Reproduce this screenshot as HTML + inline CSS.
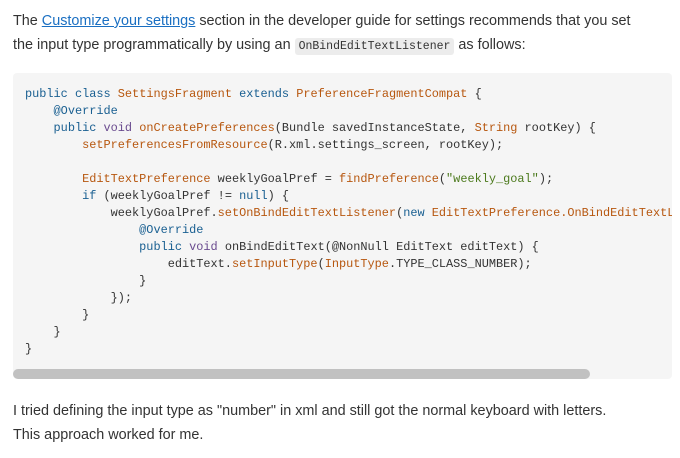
<!DOCTYPE html>
<html><head><style>
body{margin:0;width:680px;height:458px;background:#fff;overflow:hidden;font-family:"Liberation Sans",sans-serif;color:#333;}
p{margin:0;position:absolute;left:13px;font-size:14.4px;line-height:24px;}
a{color:#1a6fc2;text-decoration:underline;}
code.i{font-family:"Liberation Mono",monospace;font-size:11.5px;background:#ececec;padding:2px 4px;border-radius:3px;}
.box{position:absolute;left:13px;top:73px;width:659px;height:306px;background:#f5f5f5;border-radius:4px;overflow:hidden;}
pre{margin:0;position:absolute;left:12px;top:13px;font-family:"Liberation Mono",monospace;font-size:11.9px;line-height:17px;color:#333;white-space:pre;}
.k{color:#195f91;}.t{color:#b7570f;}.v{color:#6a4b8f;}.s{color:#4c7a1d;}
.sb{position:absolute;left:0;top:296px;width:577px;height:10px;background:#c1c1c1;border-radius:5px;}
</style></head><body>
<p style="top:9px">The <a>Customize your settings</a> section in the developer guide for settings recommends that you set<br>the input type programmatically by using an <code class="i">OnBindEditTextListener</code> as follows:</p>
<div class="box"><pre><span class="k">public class</span> <span class="t">SettingsFragment</span> <span class="k">extends</span> <span class="t">PreferenceFragmentCompat</span> {
    <span class="k">@Override</span>
    <span class="k">public</span> <span class="v">void</span> <span class="t">onCreatePreferences</span>(Bundle savedInstanceState, <span class="t">String</span> rootKey) {
        <span class="t">setPreferencesFromResource</span>(R.xml.settings_screen, rootKey);

        <span class="t">EditTextPreference</span> weeklyGoalPref = <span class="t">findPreference</span>(<span class="s">"weekly_goal"</span>);
        <span class="k">if</span> (weeklyGoalPref != <span class="k">null</span>) {
            weeklyGoalPref.<span class="t">setOnBindEditTextListener</span>(<span class="k">new</span> <span class="t">EditTextPreference.OnBindEditTextListener</span>() {
                <span class="k">@Override</span>
                <span class="k">public</span> <span class="v">void</span> onBindEditText(@NonNull EditText editText) {
                    editText.<span class="t">setInputType</span>(<span class="t">InputType</span>.TYPE_CLASS_NUMBER);
                }
            });
        }
    }
}</pre><div class="sb"></div></div>
<p style="top:399px">I tried defining the input type as "number" in xml and still got the normal keyboard with letters.<br>This approach worked for me.</p>
</body></html>
